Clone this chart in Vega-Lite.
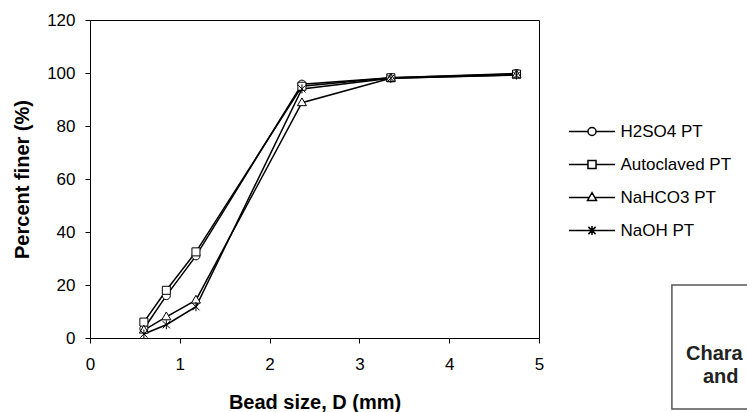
{
  "$schema": "https://vega.github.io/schema/vega-lite/v6.json",
  "width": 449,
  "height": 318,
  "autosize": "none",
  "padding": {"left": 90, "top": 20, "right": 208, "bottom": 74},
  "background": "white",
  "config": {
    "view": {"stroke": "black", "strokeWidth": 1},
    "font": "Liberation Sans",
    "axis": {
      "grid": false,
      "domainColor": "black",
      "tickColor": "black",
      "labelColor": "black",
      "titleColor": "black",
      "labelFont": "Liberation Sans",
      "titleFont": "Liberation Sans",
      "labelFontSize": 17,
      "titleFontSize": 20,
      "titleFontWeight": "bold",
      "tickSize": 5,
      "domainWidth": 1,
      "tickWidth": 1
    }
  },
  "datasets": {
    "pts": [
      {"series": "H2SO4 PT", "D": 0.6, "P": 3.5},
      {"series": "H2SO4 PT", "D": 0.85, "P": 16},
      {"series": "H2SO4 PT", "D": 1.18, "P": 31},
      {"series": "H2SO4 PT", "D": 2.36, "P": 95.8},
      {"series": "H2SO4 PT", "D": 3.35, "P": 98.2},
      {"series": "H2SO4 PT", "D": 4.75, "P": 99.8},
      {"series": "Autoclaved PT", "D": 0.6, "P": 6},
      {"series": "Autoclaved PT", "D": 0.85, "P": 18},
      {"series": "Autoclaved PT", "D": 1.18, "P": 32.5},
      {"series": "Autoclaved PT", "D": 2.36, "P": 95},
      {"series": "Autoclaved PT", "D": 3.35, "P": 98.2},
      {"series": "Autoclaved PT", "D": 4.75, "P": 99.6},
      {"series": "NaHCO3 PT", "D": 0.6, "P": 3},
      {"series": "NaHCO3 PT", "D": 0.85, "P": 8},
      {"series": "NaHCO3 PT", "D": 1.18, "P": 14.3},
      {"series": "NaHCO3 PT", "D": 2.36, "P": 88.8},
      {"series": "NaHCO3 PT", "D": 3.35, "P": 98},
      {"series": "NaHCO3 PT", "D": 4.75, "P": 99.3},
      {"series": "NaOH PT", "D": 0.6, "P": 1.5},
      {"series": "NaOH PT", "D": 0.85, "P": 5},
      {"series": "NaOH PT", "D": 1.18, "P": 11.8},
      {"series": "NaOH PT", "D": 2.36, "P": 94},
      {"series": "NaOH PT", "D": 3.35, "P": 98},
      {"series": "NaOH PT", "D": 4.75, "P": 99.2}
    ],
    "box": [{"x1": 6.48, "x2": 7.6, "y1": 20, "y2": -26.8}],
    "txt": [
      {"tx": 6.637, "ty": -8.3, "label": "Chara"},
      {"tx": 6.826, "ty": -17.0, "label": "and"}
    ]
  },
  "layer": [
    {
      "data": {"name": "pts"},
      "mark": {"type": "line", "stroke": "black", "strokeWidth": 1.5},
      "encoding": {
        "x": {"field": "D", "type": "quantitative", "title": "Bead size, D (mm)",
              "scale": {"domain": [0, 5], "nice": false},
              "axis": {"values": [0, 1, 2, 3, 4, 5], "format": "d", "labelPadding": 13, "titlePadding": 20, "labelFlush": false}},
        "y": {"field": "P", "type": "quantitative", "title": "Percent finer (%)",
              "scale": {"domain": [0, 120], "nice": false},
              "axis": {"values": [0, 20, 40, 60, 80, 100, 120], "labelPadding": 10, "titlePadding": 14, "labelFlush": false}},
        "detail": {"field": "series"},
        "order": {"field": "D"}
      }
    },
    {
      "data": {"name": "pts"},
      "mark": {"type": "point", "filled": true, "fill": "white", "stroke": "black", "strokeWidth": 1, "size": 144, "opacity": 1},
      "encoding": {
        "x": {"field": "D", "type": "quantitative", "title": "Bead size, D (mm)"},
        "y": {"field": "P", "type": "quantitative", "title": "Percent finer (%)"},
        "shape": {
          "field": "series", "type": "nominal", "legend": null,
          "scale": {
            "domain": ["H2SO4 PT", "Autoclaved PT", "NaHCO3 PT", "NaOH PT"],
            "range": [
              "M0.67,0A0.67,0.67,0,1,1,-0.67,0A0.67,0.67,0,1,1,0.67,0Z",
              "M-0.67,-0.67L0.67,-0.67L0.67,0.67L-0.67,0.67Z",
              "M0,-0.8L0.75,0.5L-0.75,0.5Z",
              "M0,-0.75L0,0.75M-0.6,-0.6L0.6,0.6M-0.6,0.6L0.6,-0.6"
            ]
          }
        }
      }
    },
    {
      "data": {"name": "pts"},
      "transform": [{"filter": "datum.D < 0"}],
      "mark": {"type": "point", "filled": false, "color": "black", "strokeWidth": 1.5, "size": 144, "opacity": 1},
      "encoding": {
        "x": {"field": "D", "type": "quantitative", "title": "Bead size, D (mm)"},
        "y": {"field": "P", "type": "quantitative", "title": "Percent finer (%)"},
        "shape": {
          "field": "series", "type": "nominal",
          "scale": {
            "domain": ["H2SO4 PT", "Autoclaved PT", "NaHCO3 PT", "NaOH PT"],
            "range": [
              "M-3.83,0L-0.67,0M0.67,0L3.83,0M0.67,0A0.67,0.67,0,1,1,-0.67,0A0.67,0.67,0,1,1,0.67,0Z",
              "M-3.83,0L-0.67,0M0.67,0L3.83,0M-0.67,-0.67L0.67,-0.67L0.67,0.67L-0.67,0.67Z",
              "M-3.83,0L-0.46,0M0.46,0L3.83,0M0,-0.8L0.75,0.5L-0.75,0.5Z",
              "M-3.83,0L3.83,0M0,-0.75L0,0.75M-0.6,-0.6L0.6,0.6M-0.6,0.6L0.6,-0.6"
            ]
          },
          "legend": {
            "orient": "none", "legendX": 493.5, "legendY": 103, "title": null,
            "padding": 0, "symbolSize": 144,
            "symbolStrokeWidth": 1.5, "labelFont": "Liberation Sans", "labelFontSize": 17,
            "labelColor": "black", "labelOffset": 20, "rowPadding": 15, "labelLimit": 300,
            "encode": {
              "symbols": {
                "update": {
                  "stroke": {"value": "black"},
                  "strokeWidth": {"value": 1.5},
                  "opacity": {"value": 1},
                  "strokeOpacity": {"value": 1}
                }
              }
            }
          }
        }
      }
    },
    {
      "data": {"name": "box"},
      "mark": {"type": "rect", "fill": null, "stroke": "#555555", "strokeWidth": 1.5, "clip": false},
      "encoding": {
        "x": {"field": "x1", "type": "quantitative", "title": "Bead size, D (mm)"},
        "x2": {"field": "x2"},
        "y": {"field": "y1", "type": "quantitative", "title": "Percent finer (%)"},
        "y2": {"field": "y2"}
      }
    },
    {
      "data": {"name": "txt"},
      "mark": {"type": "text", "align": "left", "baseline": "alphabetic", "font": "Liberation Sans", "fontWeight": "bold", "fontSize": 20, "fill": "#222222", "clip": false},
      "encoding": {
        "x": {"field": "tx", "type": "quantitative", "title": "Bead size, D (mm)"},
        "y": {"field": "ty", "type": "quantitative", "title": "Percent finer (%)"},
        "text": {"field": "label"}
      }
    }
  ],
  "resolve": {"scale": {"shape": "independent"}}
}
